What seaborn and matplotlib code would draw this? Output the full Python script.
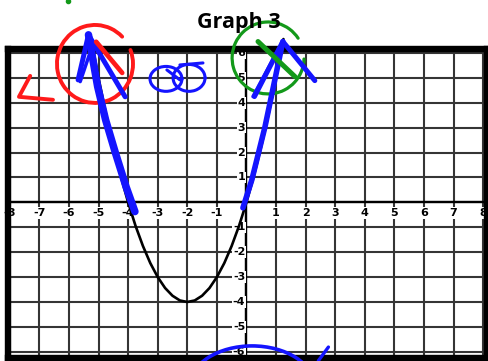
import numpy as np
import pandas as pd
import matplotlib
matplotlib.use("Agg")
import matplotlib.pyplot as plt
import seaborn as sns
from matplotlib.patches import Arc

# ---- data -------------------------------------------------------------
curve_x = [-5.25, -5.0, -4.75, -4.5, -4.25, -4.0, -3.75, -3.5, -3.25, -3.0,
           -2.75, -2.5, -2.25, -2.0, -1.75, -1.5, -1.25, -1.0, -0.75, -0.5,
           -0.25, 0.0, 0.25, 0.5, 0.75, 1.0, 1.25]
curve_y = [6.56, 5.0, 3.56, 2.25, 1.06, 0.0, -0.94, -1.75, -2.44, -3.0,
           -3.44, -3.75, -3.94, -4.0, -3.94, -3.75, -3.44, -3.0, -2.44, -1.75,
           -0.94, 0.0, 1.06, 2.25, 3.56, 5.0, 6.56]

x_ticks = list(range(-8, 9))
y_ticks = list(range(-6, 7))
x_labels = [v for v in x_ticks if v != 0]
y_labels = [v for v in y_ticks if v != 0]

# hand-drawn marks (data units)
blue_left_shaft_x = [-3.77, -4.07, -4.43, -4.76, -5.03, -5.19, -5.34]
blue_left_shaft_y = [-0.37, 0.63, 1.99, 3.31, 4.65, 5.72, 6.73]
blue_left_head_x = [-5.69, -5.34, -4.10]
blue_left_head_y = [4.92, 6.73, 4.24]
blue_left_back_x = [-5.62, -5.22]
blue_left_back_y = [4.85, 6.25]

blue_right_shaft_x = [-0.12, 0.18, 0.625, 1.23]
blue_right_shaft_y = [-0.22, 0.90, 3.03, 6.46]
blue_right_head_x = [0.27, 1.23, 2.31]
blue_right_head_y = [4.25, 6.46, 4.89]
blue_right_back_x = [0.22, 1.10]
blue_right_back_y = [4.25, 6.20]

red_mark_x = [-7.31, -7.69, -6.54]
red_mark_y = [5.08, 4.24, 4.12]
red_inner_x = [-5.08, -4.20]
red_inner_y = [6.45, 5.20]

green_inner_x = [0.39, 1.64]
green_inner_y = [6.46, 5.05]

loop_top_x = [-2.25, -1.47]
loop_top_y = [5.52, 5.60]
loop_cross_x = [-2.69, -2.25]
loop_cross_y = [5.32, 4.92]

low_stroke_x = [2.77, 2.43]
low_stroke_y = [-5.81, -6.36]

# ---- figure -----------------------------------------------------------
sns.set_style("white")
fig = plt.figure(figsize=(4.89, 3.61), dpi=100)
ax = fig.add_axes([8 / 489, 1 - 358 / 361, 479 / 489, 309 / 361])
ax.set_xlim(-8.06, 8.13)
ax.set_ylim(-6.25, 6.16)

ax.set_xticks(x_ticks)
ax.set_yticks(y_ticks)
ax.set_xticklabels([])
ax.set_yticklabels([])
ax.tick_params(length=0)
ax.grid(True, color="#353535", lw=1.5)
ax.set_axisbelow(True)
for s in ax.spines.values():
    s.set_linewidth(4.6)
    s.set_color("black")
    s.set_zorder(10)
ax.axhline(0, color="black", lw=1.7, zorder=2)
ax.axvline(0, color="black", lw=1.7, zorder=2)

lbl = dict(fontsize=8, fontweight="bold", color="black", zorder=5,
           bbox=dict(fc="white", ec="none", pad=0.6))
for v in x_labels:
    ax.text(v, -0.42, f"{v}", ha="center", va="center", **lbl)
for v in y_labels:
    ax.text(-0.04, v, f"{v}", ha="right", va="center", **lbl)

df = pd.DataFrame({"x": curve_x, "y": curve_y})
sns.lineplot(data=df, x="x", y="y", color="black", lw=1.9, sort=False,
             ax=ax, zorder=6, clip_on=False)
ax.set_xlabel("")
ax.set_ylabel("")

fig.text(239 / 489, 1 - 28 / 361, "Graph 3", ha="center", va="baseline",
         fontsize=15.5, fontweight="bold", family="Open Sans", color="black")

# ---- ink on top ---------------------------------------------------------
BLUE = "#1414ff"
RED = "#ff1a1a"
GREEN = "#13991a"
ink = dict(clip_on=False, solid_capstyle="round", solid_joinstyle="round", zorder=20)

ax.plot(blue_left_shaft_x, blue_left_shaft_y, color=BLUE, lw=5.4, **ink)
ax.plot(blue_left_head_x, blue_left_head_y, color=BLUE, lw=3.6, **ink)
ax.plot(blue_left_back_x, blue_left_back_y, color=BLUE, lw=2.5, **ink)
ax.plot(blue_right_shaft_x, blue_right_shaft_y, color=BLUE, lw=4.0, **ink)
ax.plot(blue_right_head_x, blue_right_head_y, color=BLUE, lw=3.6, **ink)
ax.plot(blue_right_back_x, blue_right_back_y, color=BLUE, lw=2.5, **ink)

arc = dict(clip_on=False, zorder=19, capstyle="round")
ax.add_patch(Arc((-5.12, 5.56), 2.57, 3.13, theta1=50, theta2=385, color=RED, lw=2.8, **arc))
ax.plot(red_mark_x, red_mark_y, color=RED, lw=2.8, **ink)
ax.plot(red_inner_x, red_inner_y, color=RED, lw=3.4, **ink)

ax.add_patch(Arc((0.73, 5.80), 2.43, 2.89, theta1=38, theta2=358, color=GREEN, lw=2.3, **arc))
ax.plot(green_inner_x, green_inner_y, color=GREEN, lw=3.6, **ink)
ax.plot([-6.03], [8.1], "o", color=GREEN, ms=3, clip_on=False, zorder=20)

ax.add_patch(Arc((-2.72, 4.96), 1.08, 1.0, theta1=0, theta2=360, color=BLUE, lw=2.2, **arc))
ax.add_patch(Arc((-1.94, 5.0), 1.08, 1.08, theta1=0, theta2=360, color=BLUE, lw=2.2, **arc))
ax.plot(loop_top_x, loop_top_y, color=BLUE, lw=2.2, **ink)
ax.plot(loop_cross_x, loop_cross_y, color=BLUE, lw=2.2, **ink)

ax.add_patch(Arc((0.19, -7.37), 4.19, 3.21, theta1=0, theta2=180, color=BLUE, lw=2.6, **arc))
ax.plot(low_stroke_x, low_stroke_y, color=BLUE, lw=2.4, **ink)

fig.savefig("out.png", dpi=100)
